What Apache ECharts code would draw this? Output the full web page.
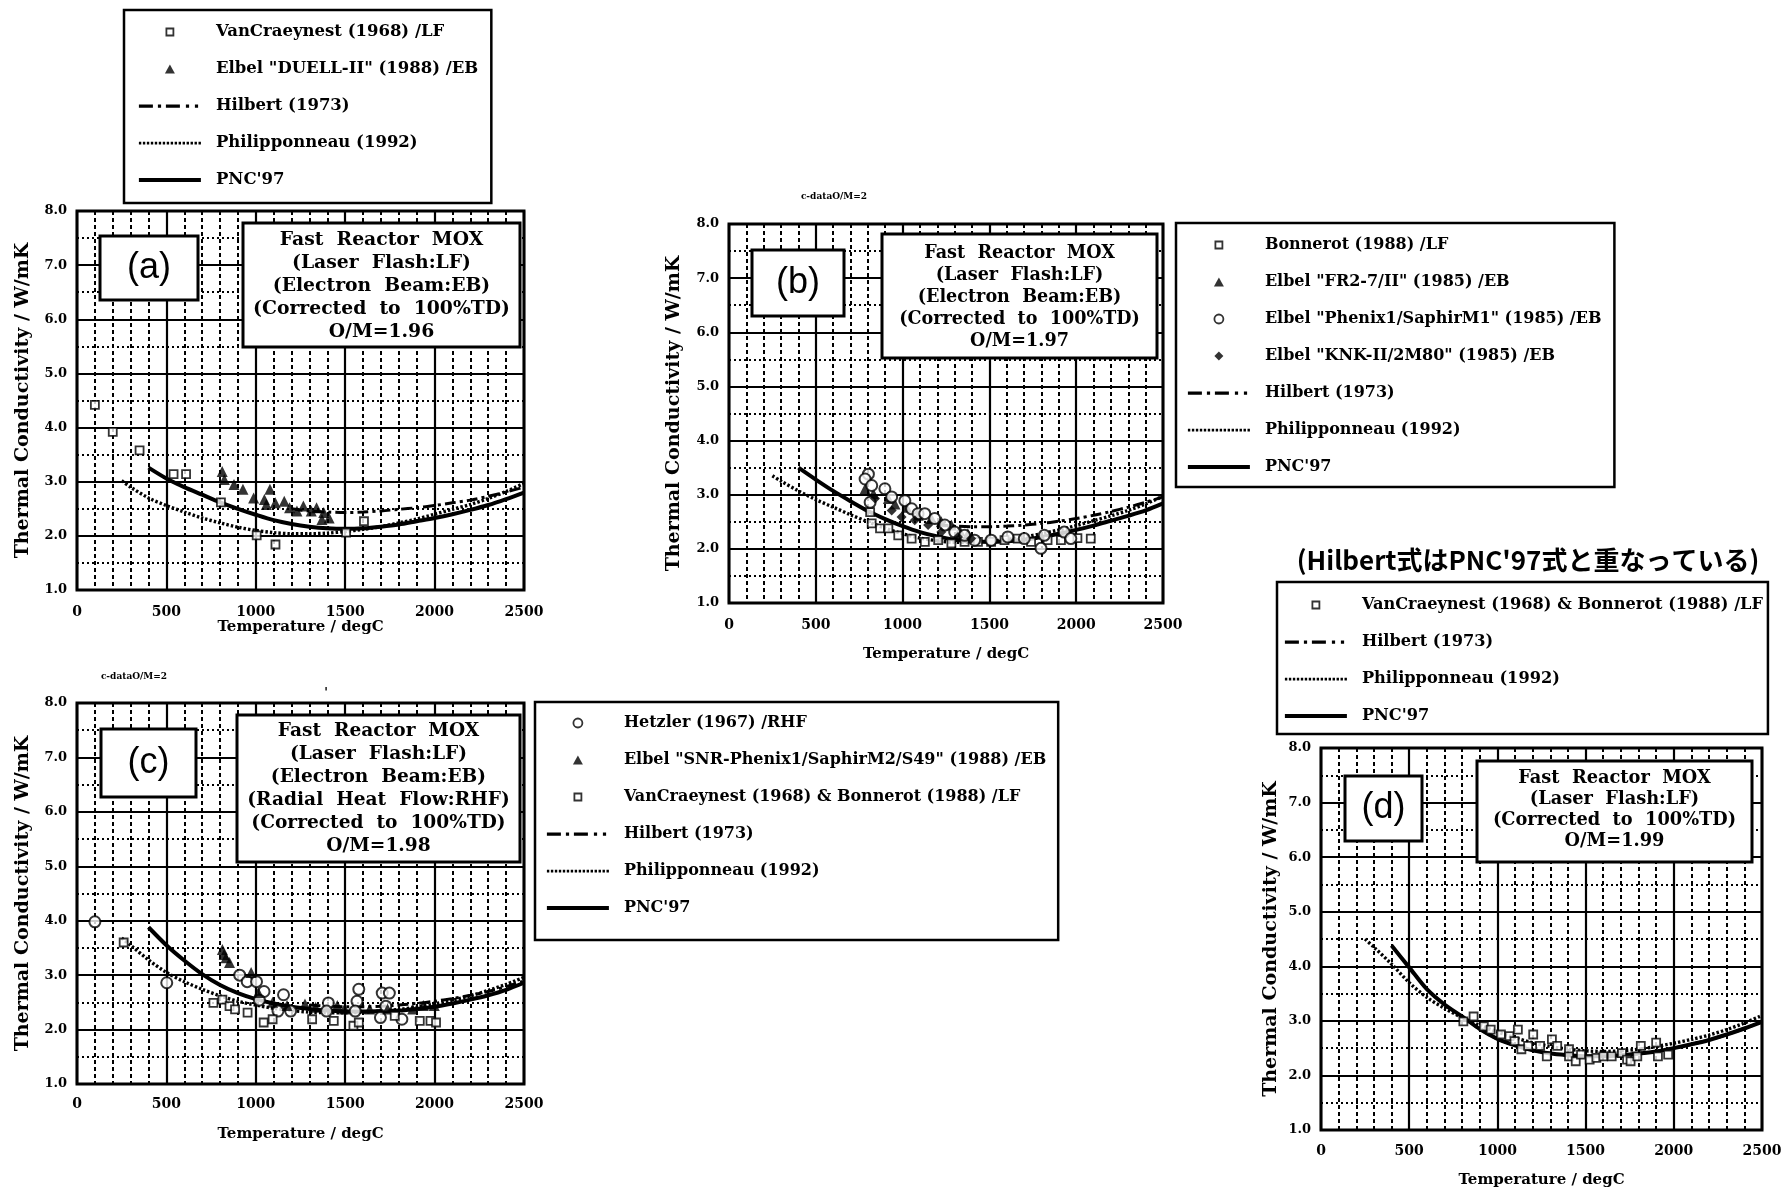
<!DOCTYPE html>
<html><head><meta charset="utf-8">
<script src="https://cdn.jsdelivr.net/npm/echarts@6/dist/echarts.min.js"></script>
<style>html,body{margin:0;padding:0;background:#fff}#main{width:1785px;height:1191px}</style>
</head><body><div id="main"></div>
<script>
// ---------------- DATA ----------------
const yTickLabels = ['1.0','2.0','3.0','4.0','5.0','6.0','7.0','8.0'];
const xTickLabels = ['0','500','1000','1500','2000','2500'];

// (a) O/M = 1.96
const aVanCraeynest = [[100,4.42],[200,3.92],[350,3.58],[540,3.14],[610,3.14],[805,2.62],[1005,2.01],[1110,1.84],[1505,2.06],[1605,2.27]];
const aElbelDuell = [[812,3.19],[824,3.04],[878,2.95],[928,2.86],[988,2.70],[1048,2.67],[1079,2.86],[1059,2.58],[1109,2.61],[1159,2.64],[1189,2.52],[1230,2.46],[1266,2.55],[1310,2.46],[1340,2.52],[1380,2.43],[1410,2.33],[1370,2.30]];
const aHilbert = [[1200,2.50],[1300,2.46],[1400,2.44],[1500,2.43],[1600,2.44],[1700,2.46],[1800,2.49],[1900,2.52],[2000,2.56],[2100,2.61],[2200,2.66],[2300,2.73],[2400,2.81],[2500,2.90]];
const aPhilipponneau = [[250,3.02],[300,2.90],[400,2.70],[500,2.56],[600,2.44],[700,2.33],[800,2.24],[900,2.16],[1000,2.10],[1100,2.06],[1200,2.04],[1300,2.04],[1400,2.05],[1500,2.08],[1600,2.12],[1700,2.17],[1800,2.24],[1900,2.31],[2000,2.40],[2100,2.49],[2200,2.58],[2300,2.69],[2400,2.82],[2500,2.97]];
const aPNC97 = [[400,3.26],[500,3.06],[600,2.90],[700,2.76],[800,2.62],[900,2.50],[1000,2.39],[1100,2.29],[1200,2.22],[1300,2.17],[1400,2.14],[1500,2.13],[1600,2.14],[1700,2.17],[1800,2.21],[1900,2.27],[2000,2.33],[2100,2.40],[2200,2.48],[2300,2.57],[2400,2.68],[2500,2.80]];

// (b) O/M = 1.97
const bBonnerot = [[813,2.68],[822,2.47],[870,2.38],[918,2.38],[975,2.25],[1052,2.19],[1128,2.13],[1205,2.16],[1281,2.10],[1357,2.13],[1434,2.13],[1510,2.13],[1587,2.16],[1663,2.19],[1740,2.13],[1835,2.16],[1912,2.16],[2007,2.20],[2084,2.19]];
const bElbelFR2 = [[784,3.11],[832,3.02],[918,2.93],[956,2.83],[1023,2.77],[1090,2.62],[1166,2.56],[1223,2.50],[1281,2.44],[1329,2.34],[1376,2.28]];
const bElbelPhenix = [[803,3.38],[784,3.29],[822,3.17],[898,3.11],[813,2.86],[937,2.96],[1013,2.89],[1052,2.74],[1089,2.65],[1128,2.65],[1185,2.56],[1243,2.44],[1300,2.31],[1357,2.25],[1415,2.16],[1510,2.16],[1606,2.22],[1701,2.19],[1797,2.01],[1816,2.25],[1931,2.31],[1969,2.19]];
const bElbelKNK = [[841,2.93],[937,2.71],[994,2.59],[1070,2.53],[1147,2.44],[1223,2.31],[1319,2.22],[1395,2.19]];
const bHilbert = [[1200,2.45],[1300,2.42],[1400,2.41],[1500,2.41],[1600,2.42],[1700,2.44],[1800,2.47],[1900,2.51],[2000,2.56],[2100,2.62],[2200,2.69],[2300,2.77],[2400,2.86],[2500,2.96]];
const bPhilipponneau = [[250,3.35],[300,3.25],[400,3.07],[500,2.91],[600,2.77],[700,2.63],[800,2.50],[900,2.38],[1000,2.28],[1100,2.20],[1200,2.15],[1300,2.12],[1400,2.12],[1500,2.14],[1600,2.17],[1700,2.22],[1800,2.28],[1900,2.35],[2000,2.43],[2100,2.52],[2200,2.61],[2300,2.71],[2400,2.83],[2500,2.97]];
const bPNC97 = [[400,3.50],[500,3.28],[600,3.07],[700,2.88],[800,2.70],[900,2.55],[1000,2.42],[1100,2.31],[1200,2.23],[1300,2.17],[1400,2.14],[1500,2.13],[1600,2.14],[1700,2.17],[1800,2.22],[1900,2.28],[2000,2.35],[2100,2.43],[2200,2.52],[2300,2.61],[2400,2.71],[2500,2.84]];

// (c) O/M = 1.98
const cHetzler = [[100,3.98],[502,2.86],[910,3.00],[952,2.88],[1004,2.88],[1046,2.70],[1020,2.54],[1155,2.64],[1124,2.34],[1195,2.34],[1406,2.49],[1396,2.34],[1576,2.74],[1566,2.52],[1556,2.34],[1707,2.67],[1747,2.67],[1727,2.43],[1817,2.19],[1697,2.22]];
const cElbelSNR = [[813,3.47],[823,3.38],[833,3.32],[853,3.23],[974,3.05],[1014,2.68],[1094,2.50],[1175,2.44],[1275,2.47],[1335,2.41],[1456,2.44],[1496,2.38],[1637,2.38],[1737,2.38],[1877,2.38],[1937,2.44],[1998,2.44]];
const cVanCBonnerot = [[261,3.60],[763,2.49],[813,2.55],[853,2.43],[884,2.37],[954,2.31],[1044,2.13],[1094,2.19],[1315,2.19],[1436,2.16],[1546,2.07],[1576,2.13],[1777,2.25],[1917,2.16],[1977,2.16],[2008,2.13]];
const cHilbert = [[1300,2.45],[1400,2.43],[1500,2.42],[1600,2.42],[1700,2.43],[1800,2.45],[1900,2.48],[2000,2.52],[2100,2.57],[2200,2.63],[2300,2.70],[2400,2.79],[2500,2.89]];
const cPhilipponneau = [[250,3.68],[300,3.55],[400,3.28],[500,3.05],[600,2.88],[700,2.74],[800,2.62],[900,2.52],[1000,2.45],[1100,2.39],[1200,2.35],[1300,2.32],[1400,2.31],[1500,2.31],[1600,2.32],[1700,2.34],[1800,2.37],[1900,2.41],[2000,2.47],[2100,2.54],[2200,2.62],[2300,2.72],[2400,2.83],[2500,2.96]];
const cPNC97 = [[400,3.88],[500,3.55],[600,3.27],[700,3.02],[800,2.82],[900,2.67],[1000,2.56],[1100,2.48],[1200,2.42],[1300,2.38],[1400,2.35],[1500,2.33],[1600,2.33],[1700,2.34],[1800,2.35],[1900,2.38],[2000,2.42],[2100,2.48],[2200,2.55],[2300,2.63],[2400,2.73],[2500,2.86]];

// (d) O/M = 1.99
const dVanCBonnerot = [[865,3.08],[807,2.99],[923,2.90],[962,2.84],[1020,2.75],[1068,2.72],[1116,2.84],[1097,2.63],[1136,2.48],[1174,2.54],[1203,2.75],[1242,2.54],[1280,2.35],[1309,2.66],[1339,2.54],[1406,2.48],[1406,2.35],[1444,2.26],[1474,2.38],[1523,2.29],[1561,2.32],[1600,2.35],[1648,2.35],[1706,2.41],[1735,2.29],[1755,2.26],[1793,2.35],[1813,2.54],[1900,2.60],[1910,2.35],[1968,2.38]];
const dHilbert = [[800,3.08],[900,2.85],[1000,2.67],[1100,2.55],[1200,2.46],[1300,2.40],[1400,2.37],[1500,2.35],[1600,2.35],[1700,2.37],[1800,2.40],[1900,2.44],[2000,2.50],[2100,2.57],[2200,2.65],[2300,2.75],[2400,2.86],[2500,2.98]];
const dPhilipponneau = [[250,4.50],[300,4.35],[400,4.04],[500,3.70],[600,3.43],[700,3.23],[800,3.06],[900,2.92],[1000,2.80],[1100,2.69],[1200,2.60],[1300,2.53],[1400,2.48],[1500,2.45],[1600,2.44],[1700,2.45],[1800,2.48],[1900,2.53],[2000,2.59],[2100,2.66],[2200,2.74],[2300,2.84],[2400,2.96],[2500,3.10]];
const dPNC97 = [[400,4.38],[500,3.98],[600,3.58],[700,3.30],[800,3.08],[900,2.85],[1000,2.67],[1100,2.55],[1200,2.46],[1300,2.40],[1400,2.37],[1500,2.35],[1600,2.35],[1700,2.37],[1800,2.40],[1900,2.44],[2000,2.50],[2100,2.57],[2200,2.65],[2300,2.75],[2400,2.86],[2500,2.98]];

// names
const N_HIL = 'Hilbert (1973)', N_PHI = 'Philipponneau (1992)', N_PNC = "PNC'97";
const N_VC = 'VanCraeynest (1968) /LF';
const N_DUELL = 'Elbel "DUELL-II" (1988) /EB';
const N_BON = 'Bonnerot (1988) /LF';
const N_FR2 = 'Elbel "FR2-7/II" (1985) /EB';
const N_PHE = 'Elbel "Phenix1/SaphirM1" (1985) /EB';
const N_KNK = 'Elbel "KNK-II/2M80" (1985) /EB';
const N_HET = 'Hetzler (1967) /RHF';
const N_SNR = 'Elbel "SNR-Phenix1/SaphirM2/S49" (1988) /EB';
const N_VCB = 'VanCraeynest (1968) & Bonnerot (1988) /LF';

// ---------------- STYLE / LAYOUT ----------------
const SERIF = '"DejaVu Serif", "Liberation Serif", serif';
const grids = [
  {left:77, top:211, width:447, height:379},   // a
  {left:729, top:224, width:434, height:379},  // b
  {left:77, top:703, width:447, height:381},   // c
  {left:1321, top:748, width:441, height:382}  // d
];
const yNameGap = [44, 45, 44, 40];
const xNameGap = [30, 44, 43, 43];
const xLabelMargin = [15, 15, 13, 14];

function xAxisFor(i){
  return {type:'value', gridIndex:i, min:0, max:2500, interval:500,
    name:'Temperature / degC', nameLocation:'middle', nameGap:xNameGap[i],
    nameTextStyle:{fontFamily:SERIF, fontWeight:'bold', fontSize:15, color:'#000'},
    axisLine:{show:false}, axisTick:{show:false},
    axisLabel:{margin:xLabelMargin[i], fontFamily:SERIF, fontWeight:'bold', fontSize:14, color:'#000',
      formatter:(v)=>xTickLabels[Math.round(v/500)]},
    splitLine:{show:true, lineStyle:{color:'#000', width:2.2}},
    minorTick:{show:false, splitNumber:5},
    minorSplitLine:{show:true, lineStyle:{color:'#000', width:2, type:[4,3]}}
  };
}
function yAxisFor(i){
  return {type:'value', gridIndex:i, min:1, max:8, interval:1,
    name:'Thermal Conductivity / W/mK', nameLocation:'middle', nameGap:yNameGap[i],
    nameTextStyle:{fontFamily:SERIF, fontWeight:'bold', fontSize:19, color:'#000'},
    axisLine:{show:false}, axisTick:{show:false},
    axisLabel:{margin:10, fontFamily:SERIF, fontWeight:'bold', fontSize:13, color:'#000',
      formatter:(v)=>yTickLabels[Math.round(v-1)]},
    splitLine:{show:true, lineStyle:{color:'#000', width:2.2}},
    minorTick:{show:false, splitNumber:2},
    minorSplitLine:{show:true, lineStyle:{color:'#000', width:2, type:[2,3]}}
  };
}

const lineStyles = {
  [N_HIL]: {color:'#000', width:3, type:[11,4,3,4]},
  [N_PHI]: {color:'#000', width:3.4, type:[2.4,2]},
  [N_PNC]: {color:'#000', width:4, type:'solid'}
};
function curve(name, data, gi, z){
  return {type:'line', name, data, xAxisIndex:gi, yAxisIndex:gi, smooth:0.3,
    symbol:'none', showSymbol:false, lineStyle:lineStyles[name], itemStyle:{color:'#000'},
    z:z||2, silent:true};
}
const markers = {
  square:{symbol:'rect', symbolSize:8, itemStyle:{color:'#fff', borderColor:'#000', borderWidth:1.8}},
  triangle:{symbol:'triangle', symbolSize:11, itemStyle:{color:'#000', borderColor:'#000', borderWidth:0}},
  circle:{symbol:'circle', symbolSize:11, itemStyle:{color:'#fff', borderColor:'#000', borderWidth:2}},
  diamond:{symbol:'diamond', symbolSize:10, itemStyle:{color:'#000', borderColor:'#000', borderWidth:0}}
};
function pts(name, data, gi, mk){
  const m = markers[mk];
  return {type:'scatter', name, data, xAxisIndex:gi, yAxisIndex:gi,
    symbol:m.symbol, symbolSize:m.symbolSize, symbolKeepAspect:true,
    itemStyle:m.itemStyle, z:4, silent:true};
}

const series = [
  // (a)
  curve(N_PHI, aPhilipponneau, 0), curve(N_HIL, aHilbert, 0), curve(N_PNC, aPNC97, 0, 3),
  pts(N_VC, aVanCraeynest, 0, 'square'), pts(N_DUELL, aElbelDuell, 0, 'triangle'),
  // (b)
  curve(N_PHI, bPhilipponneau, 1), curve(N_HIL, bHilbert, 1), curve(N_PNC, bPNC97, 1, 3),
  pts(N_BON, bBonnerot, 1, 'square'), pts(N_FR2, bElbelFR2, 1, 'triangle'),
  pts(N_PHE, bElbelPhenix, 1, 'circle'), pts(N_KNK, bElbelKNK, 1, 'diamond'),
  // (c)
  curve(N_PHI, cPhilipponneau, 2), curve(N_HIL, cHilbert, 2), curve(N_PNC, cPNC97, 2, 3),
  pts(N_HET, cHetzler, 2, 'circle'), pts(N_SNR, cElbelSNR, 2, 'triangle'), pts(N_VCB, cVanCBonnerot, 2, 'square'),
  // (d)
  curve(N_PHI, dPhilipponneau, 3), curve(N_HIL, dHilbert, 3, 1), curve(N_PNC, dPNC97, 3, 3),
  pts(N_VCB, dVanCBonnerot, 3, 'square')
];

// ---- legend icons (62 x 9 box; corner points fix the scale) ----
const FRAME = 'M0,0L0,0M62,9L62,9';
let dots = '';
for (let x = 0; x < 62; x += 4) dots += 'M' + x + ',3.3h2.4v2.8h-2.4z';
const ICON = {
  square: 'path://' + FRAME + 'M27.5,1h7v7h-7z',
  triangle: 'path://' + FRAME + 'M31,0L36,9L26,9z',
  circle: 'path://' + FRAME + 'M26.5,4.5a4.5,4.5 0 1,0 9,0a4.5,4.5 0 1,0 -9,0z',
  diamond: 'path://' + FRAME + 'M31,0L35.5,4.5L31,9L26.5,4.5z',
  hil: 'path://' + FRAME + 'M0,3h14v3.2h-14zM19,3h3.2v3.2h-3.2zM27,3h14v3.2h-14zM47,3h3.2v3.2h-3.2zM56,3h3.2v3.2h-3.2z',
  phi: 'path://' + FRAME + dots,
  pnc: 'path://' + FRAME + 'M0,2.5h62v4h-62z'
};
const HOLLOW = {color:'#fff', borderColor:'#000', borderWidth:1.8};
const SOLID = {color:'#000', borderColor:'#000', borderWidth:0};
function li(name, kind){
  const hollow = (kind === 'square' || kind === 'circle');
  return {name, icon:ICON[kind], itemStyle: hollow ? HOLLOW : SOLID};
}
const LH = li(N_HIL,'hil'), LP = li(N_PHI,'phi'), LN = li(N_PNC,'pnc');

function legendBox(data, left, top, padding, fs){
  return {data, left, top, orient:'vertical', padding,
    itemWidth:62, itemHeight:9, itemGap:19,
    backgroundColor:'#fff', borderColor:'#000', borderWidth:2.5, borderRadius:0,
    selectedMode:false,
    textStyle:{fontFamily:SERIF, fontWeight:'bold', fontSize:fs, color:'#000', lineHeight:18, padding:[0,0,0,10]}};
}
const legends = [
  legendBox([li(N_VC,'square'), li(N_DUELL,'triangle'), LH, LP, LN], 124, 10, [13,13,14,14], 16.5),
  legendBox([li(N_BON,'square'), li(N_FR2,'triangle'), li(N_PHE,'circle'), li(N_KNK,'diamond'), LH, LP, LN], 1176, 223, [13,13,11,11], 16),
  legendBox([li(N_HET,'circle'), li(N_SNR,'triangle'), li(N_VCB,'square'), LH, LP, LN], 535, 702, [12,12,23,11], 16),
  legendBox([li(N_VCB,'square'), LH, LP, LN], 1277, 582, [14,5,9,7], 16.2)
];

function box(x,y,w,h){
  return {type:'rect', shape:{x,y,width:w,height:h}, style:{fill:'#fff', stroke:'#000', lineWidth:3}, z:100};
}
function txt(x,y,text,font,lh){
  return {type:'text', x, y, style:{text, font, align:'center', verticalAlign:'middle', fill:'#000', lineHeight:lh||0}, z:101};
}
const labelFont = '36px "Liberation Sans", Arial, sans-serif';
const graphic = [
  // (a)
  box(100,236,98,64), txt(149,268,'(a)',labelFont),
  box(243,223,277,124), txt(381.5,286,'Fast  Reactor  MOX\n(Laser  Flash:LF)\n(Electron  Beam:EB)\n(Corrected  to  100%TD)\nO/M=1.96','bold 18.8px ' + SERIF,23),
  // (b)
  box(752,250,92,66), txt(798,283,'(b)',labelFont),
  box(882,234,275,124), txt(1019.5,297,'Fast  Reactor  MOX\n(Laser  Flash:LF)\n(Electron  Beam:EB)\n(Corrected  to  100%TD)\nO/M=1.97','bold 17.6px ' + SERIF,22),
  // (c)
  box(101,729,95,68), txt(148.5,763,'(c)',labelFont),
  box(237,715,283,147), txt(378.5,789,'Fast  Reactor  MOX\n(Laser  Flash:LF)\n(Electron  Beam:EB)\n(Radial  Heat  Flow:RHF)\n(Corrected  to  100%TD)\nO/M=1.98','bold 18.6px ' + SERIF,23),
  // (d)
  box(1345,776,77,65), txt(1383.5,808,'(d)',labelFont),
  box(1477,761,275,101), txt(1614.5,810,'Fast  Reactor  MOX\n(Laser  Flash:LF)\n(Corrected  to  100%TD)\nO/M=1.99','bold 17.8px ' + SERIF,21),
  // small annotations
  txt(834,197,'c-dataO/M=2','bold 9px ' + SERIF),
  txt(134,677,'c-dataO/M=2','bold 9px ' + SERIF),
  txt(326,694,"'",'bold 12px ' + SERIF),
  txt(1528,560,"(Hilbert式はPNC'97式と重なっている)",'bold 26px "Noto Sans CJK JP", sans-serif')
];

const chart = echarts.init(document.getElementById('main'), null, {renderer:'canvas'});
chart.setOption({
  animation:false,
  backgroundColor:'#fff',
  grid: grids.map(g=>Object.assign({show:true, backgroundColor:'#fff', borderColor:'#000', borderWidth:3, containLabel:false}, g)),
  xAxis: [0,1,2,3].map(xAxisFor),
  yAxis: [0,1,2,3].map(yAxisFor),
  legend: legends,
  series,
  graphic
});
</script></body></html>
